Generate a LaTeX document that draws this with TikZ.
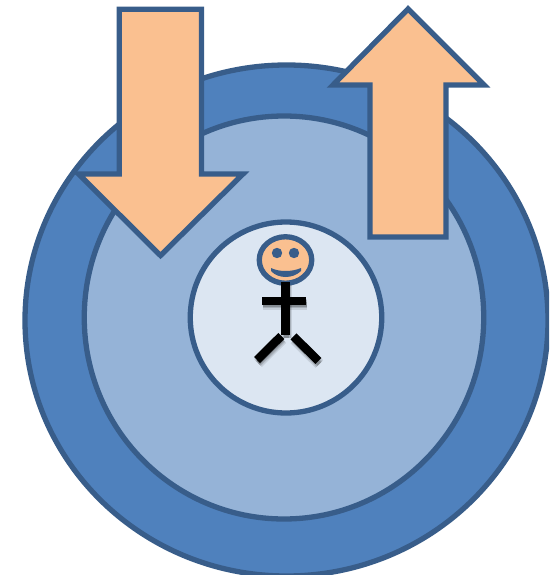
\documentclass[tikz,border=0pt]{standalone}
\usetikzlibrary{shapes.geometric}
\definecolor{ringA}{HTML}{4F81BD}
\definecolor{ringB}{HTML}{95B3D7}
\definecolor{ringC}{HTML}{DCE6F2}
\definecolor{edgeC}{HTML}{385D8A}
\definecolor{arrowF}{HTML}{FAC090}
\begin{document}
\begin{tikzpicture}[x=1pt,y=-1pt,
  disc/.style={ellipse,draw=edgeC,line width=5.3pt,inner sep=0pt,outer sep=0pt},
  bigarrow/.style={draw=edgeC,line width=5.3pt,fill=arrowF,miter limit=10},
  limb/.style={draw=black,line width=8.5pt,
    preaction={draw=black,line width=11pt,opacity=.10,transform canvas={xshift=1pt,yshift=-3pt}},
    preaction={draw=black,line width=8pt,opacity=.15,transform canvas={xshift=1pt,yshift=-3pt}},
    preaction={draw=black,line width=5pt,opacity=.2,transform canvas={xshift=1pt,yshift=-3pt}}}]
\useasboundingbox (0,0) rectangle (549,575);
\clip (0,0) rectangle (549,575);
\node[disc,fill=ringA,minimum width=523pt,minimum height=511pt] (outer) at (286.5,320.5) {};
\node[disc,fill=ringB,minimum width=399.5pt,minimum height=403pt] (middle) at (284,317.5) {};
\node[disc,fill=ringC,minimum width=191.5pt,minimum height=191pt] (inner) at (286,317.5) {};
\draw[bigarrow] (119.3,9.3)--(201.4,9.3)--(201.4,174)--(243,174)--(160.5,255.5)--(78.5,174)--(119.3,174)--cycle;
\draw[bigarrow] (370,237)--(446,237)--(446,85)--(484,85)--(408,9)--(333,85)--(370,85)--cycle;
\node[disc,fill=arrowF,minimum width=52.5pt,minimum height=46.5pt] (face) at (285.5,260) {};
\fill[edgeC] (277,253) circle (5.2pt) (294,253) circle (5.2pt);
\fill[edgeC] (271,268) .. controls (279,272) and (292,272) .. (301,268) -- (301,271) .. controls (293,279) and (278,279) .. (271,271) -- cycle;
\coordinate (neck) at (285.7,282);
\coordinate (hip) at (285.7,335);
\coordinate (armL) at (262,301);
\coordinate (armR) at (306.3,301);
\coordinate (legLt) at (281.3,336);
\coordinate (footL) at (257,360);
\coordinate (legRt) at (293.5,336.3);
\coordinate (footR) at (318.3,361);
\draw[limb] (neck)--(hip);
\draw[limb] (armL)--(armR);
\draw[limb] (legLt)--(footL);
\draw[limb] (legRt)--(footR);
\end{tikzpicture}
\end{document}
